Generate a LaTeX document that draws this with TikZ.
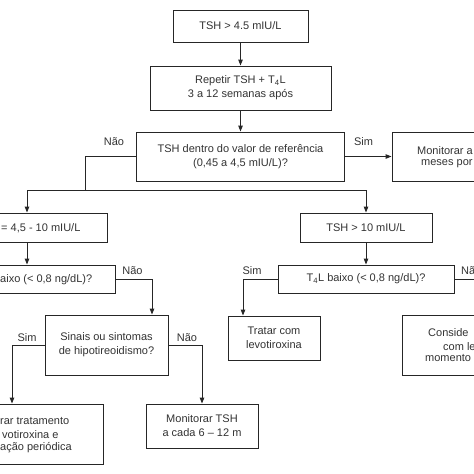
\documentclass[tikz,border=0pt]{standalone}
\usepackage{fontspec}
\setmainfont{Liberation Sans}
\usetikzlibrary{arrows.meta,positioning,calc}

\begin{document}
\begin{tikzpicture}[x=1pt, y=-1pt,
    box/.style={draw=black!85, line width=0.9pt, rectangle, align=center, inner sep=0pt, text=black!80, font=\fontsize{11}{14}\selectfont},
    arr/.style={draw=black!85, line width=0.9pt, -{Triangle[length=6pt,width=4.5pt]}},
    lnk/.style={draw=black!85, line width=0.9pt},
    lbl/.style={text=black!80, inner sep=0pt, font=\fontsize{11}{14}\selectfont}]
    \useasboundingbox (0,0) rectangle (474,474);
    \fill[white] (0,0) rectangle (474,474);
    \clip (0,0) rectangle (474,474);

    % Main column
    \node [box, minimum width=135pt, minimum height=32pt] (tsh) at (240.5,26) {TSH > 4.5 mIU/L};
    \node [box, minimum width=181pt, minimum height=44pt] (rep) at (240.5,88) {Repetir TSH + T\textsubscript{4}L\\3 a 12 semanas após};
    \node [box, minimum width=208pt, minimum height=49pt] (ref) at (240.5,156.5) {TSH dentro do valor de referência\\(0,45 a 4,5 mIU/L)?};
    \node [box, minimum width=160pt, minimum height=49pt] (mon) at (472,156.5) {};

    % Left branch
    \node [box, minimum width=160pt, minimum height=29pt] (leve) at (27,227.5) {};
    \node [box, minimum width=176pt, minimum height=28pt] (t4a) at (27,279) {};
    \node [box, minimum width=123pt, minimum height=60pt] (sin) at (106.5,345) {Sinais ou sintomas\\de hipotireoidismo?};
    \node [box, minimum width=182pt, minimum height=60pt] (ini) at (12,434) {};
    \node [box, minimum width=112pt, minimum height=44pt] (mtsh) at (202,426) {Monitorar TSH\\a cada 6 -- 12 m};

    % Right branch
    \node [box, minimum width=132pt, minimum height=29pt] (alto) at (366,227.5) {TSH > 10 mIU/L};
    \node [box, minimum width=176pt, minimum height=28pt] (t4b) at (366,279) {T\textsubscript{4}L baixo (< 0,8 ng/dL)?};
    \node [box, minimum width=92pt, minimum height=44pt] (trat) at (274,338) {Tratar com\\levotiroxina};
    \node [box, minimum width=158pt, minimum height=60pt] (cons) at (481,345.5) {};

    % Text cut by the frame
    \foreach \x/\y/\t in {1/228/{= 4,5 - 10 mIU/L}, 0/280/{aixo (< 0,8 ng/dL)?},
        0/421/{rar tratamento}, 2/435/{votiroxina e}, 0/448/{ação periódica},
        417/151/{Monitorar a}, 421/164/{meses por},
        428/333/{Conside}, 443/347/{com le}, 425/358/{momento}} {
        \node [lbl, anchor=west] at (\x,\y) {\t};
    }

    % Connections
    \draw [arr] (tsh) -- (rep);
    \draw [arr] (rep) -- (ref);
    \draw [arr] (ref) -- (mon);
    \coordinate (split) at (85,190);
    \draw [lnk] (ref.west) -| (split);
    \draw [arr] (split) -| (leve.north);
    \draw [arr] (split) -| (alto.north);
    \draw [arr] (leve) -- (t4a);
    \draw [arr] (t4a.east) -| ([xshift=45.5pt]sin.north);
    \draw [arr] (sin.west) -| (ini.north);
    \draw [arr] (sin.east) -| (mtsh.north);
    \draw [arr] (alto) -- (t4b);
    \draw [arr] (t4b.west) -| ([xshift=-31pt]trat.north);
    \draw [arr] (t4b.east) -| (cons.north);

    % Labels
    \node [lbl] (nao1) at (114,142) {Não};
    \node [lbl] (sim1) at (363.5,142) {Sim};
    \node [lbl] (nao2) at (132.5,271) {Não};
    \node [lbl] (sim2) at (27,338) {Sim};
    \node [lbl] (nao3) at (187,338) {Não};
    \node [lbl] (sim3) at (252,271) {Sim};
    \node [lbl, anchor=west] (nao4) at (461,271) {Nã};
\end{tikzpicture}
\end{document}
